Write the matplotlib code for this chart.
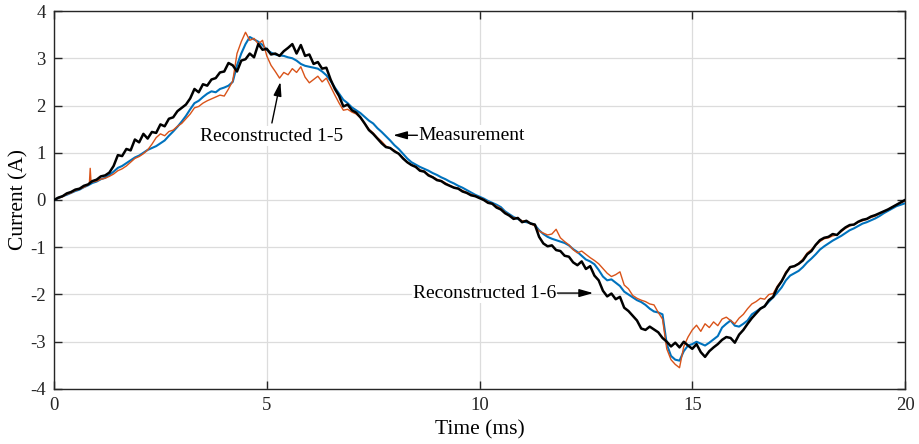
import numpy as np
import matplotlib
matplotlib.use("Agg")
import matplotlib.pyplot as plt

plt.rcParams['font.family'] = ['Liberation Serif', 'DejaVu Serif']
plt.rcParams['axes.unicode_minus'] = False

# time axis, 0.1 ms steps
t = np.round(np.arange(0, 20.01, 0.1), 1)

# Measurement (blue)
meas = [0.00, 0.04, 0.08, 0.11, 0.15, 0.19, 0.22, 0.27, 0.31, 0.36,
        0.39, 0.44, 0.47, 0.53, 0.60, 0.68, 0.72, 0.78, 0.84, 0.90,
        0.94, 1.00, 1.06, 1.10, 1.14, 1.20, 1.26, 1.36, 1.45, 1.55,
        1.66, 1.78, 1.92, 2.05, 2.10, 2.18, 2.25, 2.30, 2.28, 2.35,
        2.38, 2.42, 2.50, 2.85, 3.10, 3.30, 3.45, 3.40, 3.35, 3.28,
        3.18, 3.12, 3.08, 3.06, 3.05, 3.02, 3.00, 2.95, 2.88, 2.84,
        2.82, 2.80, 2.78, 2.72, 2.64, 2.52, 2.38, 2.25, 2.12, 2.05,
        1.96, 1.90, 1.84, 1.76, 1.68, 1.62, 1.52, 1.44, 1.35, 1.26,
        1.16, 1.08, 0.98, 0.88, 0.80, 0.75, 0.70, 0.66, 0.62, 0.57,
        0.53, 0.48, 0.44, 0.39, 0.35, 0.30, 0.26, 0.21, 0.16, 0.11,
        0.07, 0.03, -0.02, -0.06, -0.10, -0.15, -0.24, -0.30, -0.36, -0.40,
        -0.45, -0.47, -0.49, -0.53, -0.64, -0.72, -0.78, -0.82, -0.85, -0.88,
        -0.91, -0.96, -1.04, -1.10, -1.18, -1.26, -1.30, -1.36, -1.48, -1.62,
        -1.70, -1.68, -1.75, -1.82, -1.94, -2.00, -2.06, -2.12, -2.16, -2.22,
        -2.30, -2.36, -2.38, -2.42, -3.05, -3.30, -3.38, -3.40, -3.20, -3.08,
        -3.05, -3.00, -3.04, -3.08, -3.02, -2.95, -2.88, -2.70, -2.62, -2.55,
        -2.66, -2.68, -2.62, -2.55, -2.42, -2.36, -2.30, -2.25, -2.15, -2.06,
        -1.96, -1.85, -1.70, -1.60, -1.55, -1.50, -1.42, -1.32, -1.24, -1.15,
        -1.05, -0.98, -0.92, -0.86, -0.81, -0.76, -0.70, -0.64, -0.60, -0.55,
        -0.50, -0.47, -0.43, -0.39, -0.34, -0.28, -0.23, -0.18, -0.13, -0.10,
        -0.07]

# Reconstructed 1-5 (orange)
rec15 = [0.00, 0.04, 0.07, 0.12, 0.15, 0.20, 0.23, 0.27, 0.32, 0.38,
         0.40, 0.44, 0.46, 0.50, 0.55, 0.62, 0.66, 0.72, 0.80, 0.88,
         0.92, 0.98, 1.06, 1.18, 1.32, 1.40, 1.36, 1.45, 1.48, 1.56,
         1.62, 1.72, 1.82, 1.95, 1.98, 2.05, 2.10, 2.14, 2.18, 2.22,
         2.20, 2.35, 2.52, 3.10, 3.35, 3.55, 3.38, 3.42, 3.30, 3.38,
         3.05, 2.85, 2.72, 2.58, 2.70, 2.65, 2.78, 2.70, 2.82, 2.60,
         2.48, 2.55, 2.62, 2.50, 2.58, 2.40, 2.22, 2.05, 1.90, 1.92,
         1.86, 1.82, 1.74, 1.62, 1.50, 1.42, 1.32, 1.24, 1.14, 1.10,
         1.05, 0.98, 0.90, 0.80, 0.74, 0.71, 0.64, 0.61, 0.54, 0.49,
         0.44, 0.41, 0.36, 0.31, 0.27, 0.25, 0.20, 0.16, 0.12, 0.09,
         0.05, 0.01, -0.04, -0.08, -0.13, -0.18, -0.26, -0.32, -0.38, -0.39,
         -0.44, -0.45, -0.50, -0.55, -0.66, -0.70, -0.74, -0.72, -0.62, -0.80,
         -0.88, -0.95, -1.05, -1.12, -1.08, -1.15, -1.22, -1.28, -1.35, -1.45,
         -1.55, -1.62, -1.58, -1.52, -1.80, -1.88, -2.02, -2.08, -2.12, -2.15,
         -2.20, -2.22, -2.38, -2.52, -3.15, -3.38, -3.48, -3.55, -3.10, -2.90,
         -2.75, -2.65, -2.78, -2.62, -2.70, -2.58, -2.66, -2.52, -2.48, -2.55,
         -2.62, -2.50, -2.42, -2.30, -2.20, -2.15, -2.08, -2.10, -2.00, -1.98,
         -1.82, -1.70, -1.52, -1.42, -1.40, -1.34, -1.25, -1.12, -1.05, -0.96,
         -0.88, -0.82, -0.80, -0.76, -0.74, -0.67, -0.60, -0.55, -0.52, -0.47,
         -0.44, -0.41, -0.37, -0.34, -0.29, -0.25, -0.20, -0.15, -0.10, -0.06,
         -0.02]
# narrow spike near 0.85 ms in the orange trace
spike_t = [0.83, 0.85, 0.87]
spike_v = [0.34, 0.67, 0.37]

# Reconstructed 1-6 (black)
rec16 = [0.00, 0.05, 0.08, 0.14, 0.17, 0.22, 0.24, 0.30, 0.33, 0.40,
         0.43, 0.50, 0.52, 0.58, 0.72, 0.95, 0.93, 1.08, 1.05, 1.28,
         1.22, 1.40, 1.30, 1.44, 1.42, 1.60, 1.56, 1.72, 1.75, 1.88,
         1.95, 2.02, 2.15, 2.35, 2.28, 2.45, 2.42, 2.55, 2.58, 2.70,
         2.72, 2.90, 2.85, 2.72, 2.95, 2.98, 3.10, 3.02, 3.30, 3.18,
         3.20, 3.08, 3.10, 3.05, 3.15, 3.22, 3.30, 3.10, 3.28, 3.05,
         3.08, 2.88, 2.92, 2.78, 2.80, 2.55, 2.35, 2.20, 1.98, 2.02,
         1.90, 1.85, 1.75, 1.62, 1.48, 1.40, 1.30, 1.20, 1.12, 1.10,
         1.03, 0.98, 0.88, 0.80, 0.74, 0.70, 0.62, 0.60, 0.52, 0.48,
         0.42, 0.40, 0.34, 0.30, 0.26, 0.24, 0.18, 0.15, 0.10, 0.08,
         0.04, 0.00, -0.06, -0.08, -0.16, -0.20, -0.28, -0.33, -0.40, -0.38,
         -0.47, -0.44, -0.50, -0.52, -0.78, -0.92, -0.98, -0.96, -1.06, -1.08,
         -1.18, -1.20, -1.32, -1.38, -1.30, -1.46, -1.40, -1.60, -1.70, -1.92,
         -2.04, -1.98, -2.10, -2.05, -2.28, -2.35, -2.45, -2.55, -2.72, -2.75,
         -2.68, -2.74, -2.80, -2.92, -3.00, -3.10, -3.02, -3.12, -3.00, -3.08,
         -3.15, -3.05, -3.22, -3.32, -3.20, -3.12, -3.05, -2.96, -2.90, -2.92,
         -3.02, -2.85, -2.75, -2.62, -2.50, -2.40, -2.30, -2.25, -2.12, -2.05,
         -1.85, -1.72, -1.55, -1.42, -1.40, -1.35, -1.28, -1.15, -1.08, -0.95,
         -0.85, -0.80, -0.78, -0.72, -0.74, -0.65, -0.58, -0.53, -0.52, -0.46,
         -0.42, -0.40, -0.35, -0.32, -0.28, -0.24, -0.20, -0.15, -0.10, -0.05,
         0.00]

t15 = np.concatenate([t, spike_t])
v15 = np.concatenate([rec15, spike_v])
order = np.argsort(t15, kind='stable')
t15, v15 = t15[order], v15[order]

fig = plt.figure(figsize=(9.19, 4.44), dpi=100)
ax = fig.add_axes([0.0588, 0.1239, 0.926, 0.8513])

ax.plot(t, meas, color='#0072BD', lw=1.5, zorder=3)
ax.plot(t15, v15, color='#D95319', lw=1.0, zorder=4)
ax.plot(t, rec16, color='black', lw=1.8, zorder=5)

ax.set_xlim(0, 20)
ax.set_ylim(-4, 4)
ax.set_xticks([0, 5, 10, 15, 20])
ax.set_yticks(range(-4, 5))
ax.grid(True, color='#dcdcdc', lw=0.9)
ax.set_axisbelow(True)
ax.tick_params(direction='in', top=True, right=True, length=6, width=1,
               labelsize=13.5, colors='#262626', pad=6)
for s in ax.spines.values():
    s.set_color('#262626')
    s.set_linewidth(1.0)
ax.set_xlabel('Time (ms)', fontsize=15.5, labelpad=4)
ax.set_ylabel('Current (A)', fontsize=15.5, labelpad=1)

box = dict(facecolor='white', edgecolor='none', pad=1)
arw = dict(arrowstyle='-|>,head_length=0.7,head_width=0.2', color='black',
           lw=1.0, mutation_scale=12, shrinkA=0, shrinkB=0)

ax.text(5.12, 1.35, 'Reconstructed 1-5', fontsize=14, ha='center',
        va='center', bbox=box, zorder=6)
ax.annotate('', xy=(5.32, 2.50), xytext=(5.12, 1.63), arrowprops=arw, zorder=6)

ax.text(8.56, 1.37, 'Measurement', fontsize=14, ha='left',
        va='center', bbox=box, zorder=6)
ax.annotate('', xy=(7.97, 1.37), xytext=(8.54, 1.37), arrowprops=arw, zorder=6)

ax.text(11.81, -1.97, 'Reconstructed 1-6', fontsize=14, ha='right',
        va='center', bbox=box, zorder=6)
ax.annotate('', xy=(12.67, -1.97), xytext=(11.83, -1.97), arrowprops=arw, zorder=6)

fig.savefig('out.png', dpi=100)
